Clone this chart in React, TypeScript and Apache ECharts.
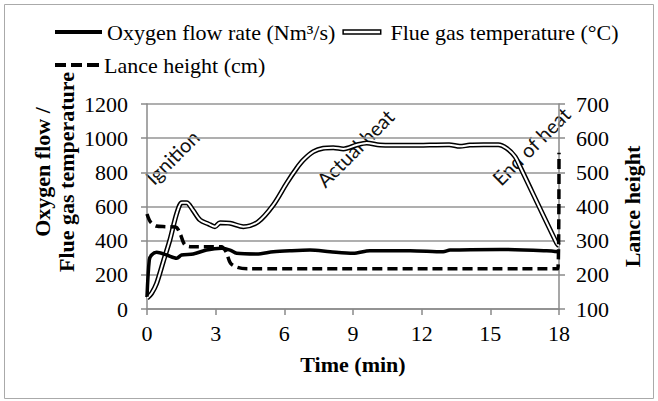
import React, { useEffect, useRef } from "react";
import * as echarts from "echarts";

const xTicks = [0, 3, 6, 9, 12, 15, 18];

const flueTime = [0, 0.2, 0.42, 0.71, 1.0, 1.3, 1.52, 1.73, 2.0, 2.32, 2.68, 2.97, 3.19, 3.63, 4.21, 4.86, 5.52, 6.1, 6.54, 6.83, 7.27, 7.7, 8.14, 8.58, 9.16, 9.6, 10.18, 11.5, 13.2, 13.67, 14.1, 14.7, 15.35, 15.71, 16.08, 16.3, 17.9, 18];
const flueTemp = [63, 92, 150, 277, 404, 560, 622, 622, 580, 521, 498, 482, 505, 502, 482, 511, 609, 736, 824, 872, 921, 941, 944, 937, 960, 972, 960, 958, 962, 952, 960, 962, 962, 941, 892, 833, 385, 370];

const oxyTime = [0, 0.1, 0.2, 0.42, 0.86, 1.3, 1.51, 2.02, 2.6, 3.26, 3.63, 3.92, 4.79, 5.52, 6.25, 7.12, 8.0, 9.01, 9.74, 11.5, 12.94, 13.24, 15.42, 17.46, 18];
const oxyFlow = [72, 287, 316, 332, 316, 297, 316, 322, 345, 355, 345, 326, 322, 335, 341, 345, 335, 326, 341, 341, 335, 345, 349, 341, 335];

const lanceTime = [0, 0.15, 0.4, 0.8, 1.25, 1.45, 1.65, 1.95, 3.25, 3.45, 3.65, 3.95, 4.4, 17.95, 18];
const lanceHeight = [378, 355, 343, 341, 340, 320, 288, 282, 282, 268, 234, 222, 218, 218, 557];

const annotations = ["Ignition", "Actual heat", "End of heat"];

const OXY = "Oxygen flow rate (Nm³/s)";
const FLUE = "Flue gas temperature (°C)";
const LANCE = "Lance height (cm)";

const SERIF = "'Liberation Serif', 'Times New Roman', serif";

function pairs(t: number[], v: number[]) {
  return t.map((x, i) => [x, v[i]]);
}

export default function App() {
  const ref = useRef<HTMLDivElement>(null);
  useEffect(() => {
    if (!ref.current) return;
    const chart = echarts.init(ref.current, null, { renderer: "svg" });
    const axisColor = "#8a8a8a";
    const gridColor = "#959595";
    const annoFont = { fontFamily: "Lato, 'Liberation Sans', sans-serif", fontSize: 20, fill: "#111" };
    const fmt = (v: number) => String(v);
    chart.setOption({
      animation: false,
      backgroundColor: "#fff",
      grid: { left: 147, right: 99, top: 104, bottom: 92 },
      legend: [
        {
          left: 55,
          top: 21,
          padding: 0,
          itemWidth: 47,
          itemHeight: 4,
          itemGap: 7,
          textStyle: { fontFamily: SERIF, fontSize: 22, color: "#000" },
          data: [
            { name: OXY, icon: "path://M0,0H47V4H0Z", itemStyle: { color: "#000" } },
            {
              name: FLUE,
              icon: "path://M0,0H47V5H0Z",
              itemStyle: { color: "#fff", borderColor: "#000", borderWidth: 1.5 },
            },
          ],
        },
        {
          left: 55,
          top: 54,
          padding: 0,
          itemWidth: 44,
          itemHeight: 4,
          textStyle: { fontFamily: SERIF, fontSize: 22, color: "#000" },
          data: [
            {
              name: LANCE,
              icon: "path://M0,0H11V4H0Z M16,0H27V4H16Z M32,0H44V4H32Z",
              itemStyle: { color: "#000" },
            },
          ],
        },
      ],
      xAxis: {
        type: "value",
        min: xTicks[0],
        max: xTicks[xTicks.length - 1],
        interval: 3,
        name: "Time (min)",
        nameLocation: "middle",
        nameGap: 44,
        nameTextStyle: { fontFamily: SERIF, fontSize: 22, fontWeight: "bold", color: "#000" },
        axisLine: { show: true, lineStyle: { color: axisColor, width: 1.5 } },
        axisTick: { show: true, inside: false, length: 6, lineStyle: { color: axisColor, width: 1.5 } },
        splitLine: { show: false },
        axisLabel: { margin: 13, fontFamily: SERIF, fontSize: 22, color: "#000", formatter: fmt },
      },
      yAxis: [
        {
          type: "value",
          min: 0,
          max: 1200,
          interval: 200,
          axisLine: { show: true, lineStyle: { color: axisColor, width: 1.5 } },
          axisTick: { show: true, inside: false, length: 6, lineStyle: { color: axisColor, width: 1.5 } },
          splitLine: { show: true, lineStyle: { color: gridColor, width: 1.5 } },
          axisLabel: { margin: 19, fontFamily: SERIF, fontSize: 22, color: "#000", formatter: fmt },
        },
        {
          type: "value",
          position: "right",
          min: 100,
          max: 700,
          interval: 100,
          name: "Lance height",
          nameLocation: "middle",
          nameRotate: 90,
          nameGap: 62,
          nameTextStyle: { fontFamily: SERIF, fontSize: 22, fontWeight: "bold", color: "#000" },
          axisLine: { show: true, lineStyle: { color: axisColor, width: 1.5 } },
          axisTick: { show: true, inside: false, length: 6, lineStyle: { color: axisColor, width: 1.5 } },
          splitLine: { show: false },
          axisLabel: { margin: 17, fontFamily: SERIF, fontSize: 22, color: "#000", formatter: fmt },
        },
      ],
      series: [
        {
          name: FLUE,
          type: "line",
          data: pairs(flueTime, flueTemp),
          symbol: "none",
          smooth: 0.3,
          color: "#000",
          lineStyle: { color: "#000", width: 5 },
          z: 2,
        },
        {
          name: "flue-inner",
          type: "line",
          data: pairs(flueTime, flueTemp),
          symbol: "none",
          smooth: 0.3,
          color: "#fff",
          lineStyle: { color: "#fff", width: 2 },
          z: 3,
        },
        {
          name: OXY,
          type: "line",
          data: pairs(oxyTime, oxyFlow),
          symbol: "none",
          smooth: 0.3,
          color: "#000",
          lineStyle: { color: "#000", width: 3.5 },
          z: 4,
        },
        {
          name: LANCE,
          type: "line",
          yAxisIndex: 1,
          data: pairs(lanceTime, lanceHeight),
          symbol: "none",
          smooth: 0.3,
          color: "#000",
          lineStyle: { color: "#000", width: 3.5, type: [10, 5] },
          z: 5,
        },
      ],
      graphic: [
        {
          type: "rect",
          shape: { x: 4.5, y: 4.5, width: 649, height: 394 },
          style: { fill: "none", stroke: "#aaa", lineWidth: 1 },
          silent: true,
        },
        {
          type: "text",
          x: 54,
          y: 172,
          rotation: Math.PI / 2,
          style: {
            text: "Oxygen flow /\nFlue gas temperature",
            fontFamily: SERIF,
            fontSize: 22,
            fontWeight: "bold",
            lineHeight: 24,
            fill: "#000",
            align: "center",
            verticalAlign: "middle",
            textAlign: "center",
            textVerticalAlign: "middle",
          },
        },
        {
          type: "text",
          x: 172,
          y: 157,
          rotation: Math.PI / 4,
          style: { text: annotations[0], ...annoFont, align: "center", verticalAlign: "middle", textAlign: "center", textVerticalAlign: "middle" },
        },
        {
          type: "text",
          x: 355,
          y: 148,
          rotation: Math.PI / 4,
          style: { text: annotations[1], ...annoFont, align: "center", verticalAlign: "middle", textAlign: "center", textVerticalAlign: "middle" },
        },
        {
          type: "text",
          x: 531,
          y: 146,
          rotation: Math.PI / 4,
          style: { text: annotations[2], ...annoFont, align: "center", verticalAlign: "middle", textAlign: "center", textVerticalAlign: "middle" },
        },
      ],
    });
    return () => chart.dispose();
  }, []);
  return (
    <div
      ref={ref}
      style={{ position: "fixed", left: 0, top: 0, width: 658, height: 401, background: "#fff" }}
    />
  );
}
